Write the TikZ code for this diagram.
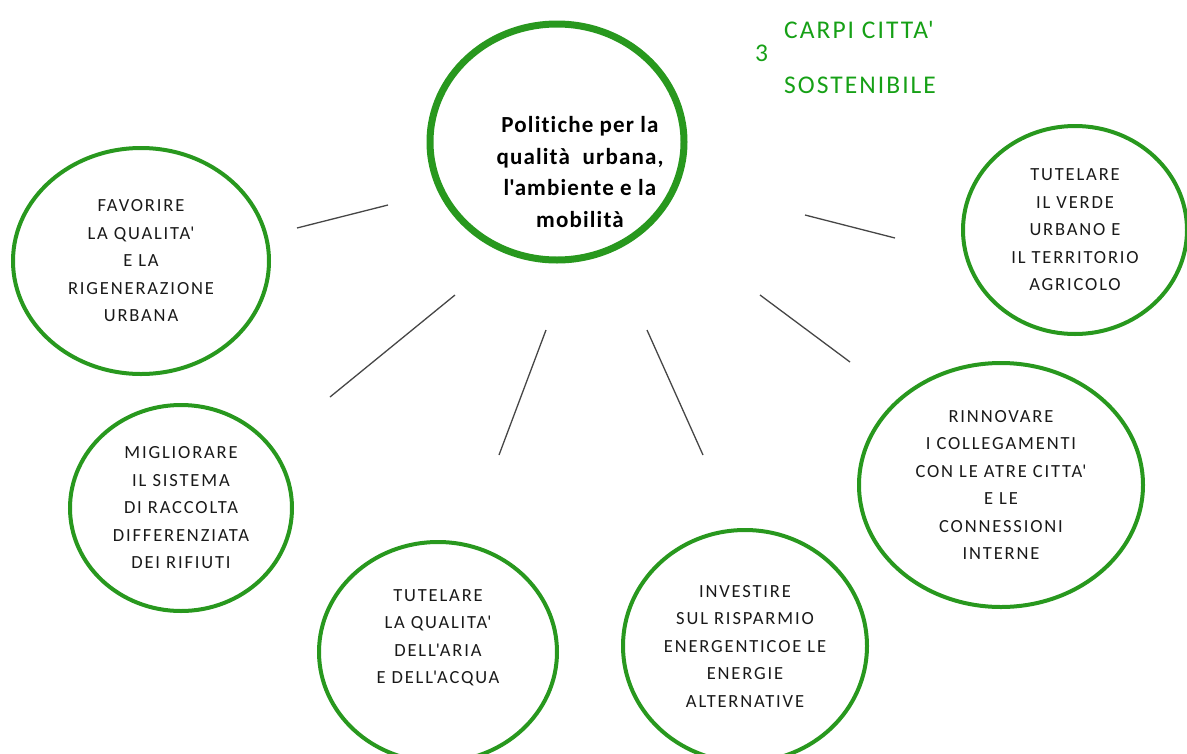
\documentclass[tikz,border=0pt]{standalone}
\usepackage{fontspec}
\setmainfont{Carlito}[Ligatures=NoCommon]
\newfontfamily\goalfont{Carlito}[Ligatures=NoCommon,LetterSpace=10]
\newfontfamily\hubfont{Carlito}[Ligatures=NoCommon,LetterSpace=5]
\newfontfamily\ttlfont{Carlito}[Ligatures=NoCommon,LetterSpace=8]
\newcommand{\ap}{\textquotesingle}
\usetikzlibrary{shapes.geometric}
\definecolor{ringgreen}{RGB}{40,152,30}
\definecolor{titlegreen}{RGB}{22,160,22}
\definecolor{linkgray}{RGB}{70,70,70}
\definecolor{textdark}{RGB}{25,25,25}
\tikzset{
  goal/.style={ellipse, draw=ringgreen, line width=4pt, inner sep=0pt, align=center,
    text=textdark, font=\goalfont\fontsize{18.5}{27.5}\selectfont},
  hub/.style={ellipse, draw=ringgreen, line width=7pt, inner sep=0pt},
  hubtext/.style={align=center, inner sep=0pt,
    font=\hubfont\bfseries\fontsize{23}{31.5}\selectfont},
  link/.style={draw=linkgray, line width=1.3pt},
  ttl/.style={text=titlegreen, anchor=west, inner sep=0pt, font=\ttlfont\fontsize{25.5}{28}\selectfont}
}
\begin{document}
\begin{tikzpicture}[x=1pt,y=-1pt]
\useasboundingbox (0,0) rectangle (1187,753);
\node[hub, minimum width=254pt, minimum height=236pt] (c) at (557,142) {};
\node[hubtext] (ct) at (580,172)
  {Politiche per la\\qualità\ \ urbana,\\l\ap ambiente e la\\mobilità};
\node[goal, minimum width=256pt, minimum height=226pt] (g1) at (141,261)
  {FAVORIRE\\LA QUALITA\ap\\E LA\\RIGENERAZIONE\\URBANA};
\node[goal, minimum width=224pt, minimum height=208pt] (g2) at (1075,230)
  {TUTELARE\\IL VERDE\\URBANO E\\IL TERRITORIO\\AGRICOLO};
\node[goal, minimum width=222pt, minimum height=206pt] (g3) at (181,508)
  {MIGLIORARE\\IL SISTEMA\\DI RACCOLTA\\DIFFERENZIATA\\DEI RIFIUTI};
\node[goal, minimum width=238pt, minimum height=220pt] (g4) at (438,652) {};
\node[goal, draw=none, anchor=center] (g4t) at (438,638)
  {TUTELARE\\LA QUALITA\ap\\DELL\ap ARIA\\E DELL\ap ACQUA};
\node[goal, minimum width=244pt, minimum height=232pt] (g5) at (745,646)
  {INVESTIRE\\SUL RISPARMIO\\ENERGENTICOE LE\\ENERGIE\\ALTERNATIVE};
\node[goal, minimum width=284pt, minimum height=244pt] (g6) at (1001,485)
  {RINNOVARE\\I COLLEGAMENTI\\CON LE ATRE CITTA\ap\\E LE\\CONNESSIONI\\INTERNE};
% connector end points
\coordinate (a1) at (388,205); \coordinate (b1) at (297,228);
\coordinate (a2) at (805,215); \coordinate (b2) at (895,238);
\coordinate (a3) at (455,295); \coordinate (b3) at (330,397);
\coordinate (a4) at (546,330); \coordinate (b4) at (499,455);
\coordinate (a5) at (647,330); \coordinate (b5) at (703,455);
\coordinate (a6) at (760,295); \coordinate (b6) at (850,362);
\foreach \i in {1,...,6} { \draw[link] (a\i) -- (b\i); }
% title
\node[ttl] (t3) at (755,53) {3};
\node[ttl] (t1) at (784,30) {CARPI CITTA\ap};
\node[ttl] (t2) at (784,85) {SOSTENIBILE};
\end{tikzpicture}
\end{document}
